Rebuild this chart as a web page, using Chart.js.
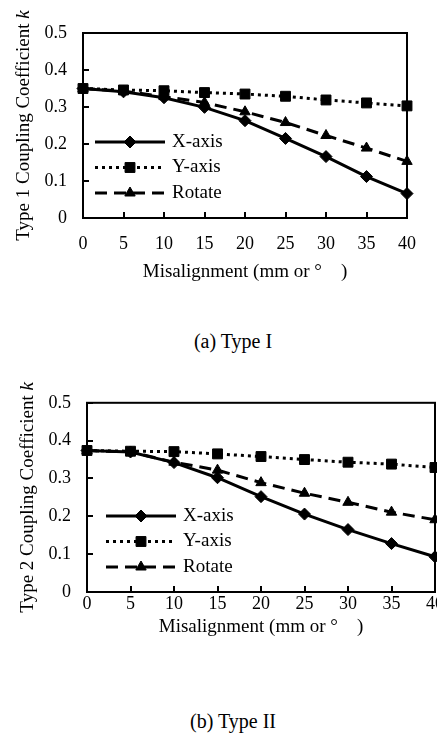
<!DOCTYPE html>
<html>
<head>
<meta charset="utf-8">
<script src="https://cdn.jsdelivr.net/npm/chart.js@4"></script>
<style>
body{margin:0;width:437px;height:736px;overflow:hidden;background:#fff;position:relative;font-family:"Liberation Serif",serif}
.box{position:absolute;left:0;overflow:hidden;width:437px}
.cap{position:absolute;left:0;width:466px;text-align:center;font-size:20px;color:#000}
</style>
</head>
<body>
<div class="box" style="top:0;height:300px"><canvas id="c1" width="437" height="300"></canvas></div>
<div class="cap" style="top:330px">(a) Type I</div>
<div class="box" style="top:370px;height:300px"><canvas id="c2" width="460" height="300"></canvas></div>
<div class="cap" style="top:710px">(b) Type II</div>
<script>
let misalign=["0","5","10","15","20","25","30","35","40"]
let yTicks=[0,0.1,0.2,0.3,0.4,0.5]
let seriesNames=["X-axis","Y-axis","Rotate"]

// Type 1
let t1X=[0.350,0.341,0.325,0.299,0.263,0.215,0.166,0.112,0.066]
let t1Y=[0.350,0.346,0.344,0.339,0.335,0.329,0.319,0.311,0.303]
let t1R=[0.350,0.343,0.328,0.312,0.287,0.258,0.223,0.189,0.153]

// Type 2
let t2X=[0.374,0.370,0.342,0.302,0.252,0.206,0.165,0.128,0.093]
let t2Y=[0.374,0.372,0.371,0.365,0.358,0.350,0.343,0.338,0.329]
let t2R=[0.374,0.370,0.343,0.322,0.289,0.261,0.237,0.211,0.191]

let font="'Liberation Serif', 'Times New Roman', serif"

let boxPlugin={
id:"box",
afterDatasetsDraw(chart){
let a=chart.chartArea
let ctx=chart.ctx
ctx.save()
ctx.strokeStyle="#000"
ctx.lineWidth=2
ctx.strokeRect(a.left,a.top,a.right-a.left,a.bottom-a.top)
ctx.restore()
}
}

let yTitlePlugin={
id:"yTitle",
afterDraw(chart,args,opts){
let a=chart.chartArea
let ctx=chart.ctx
ctx.save()
ctx.translate(opts.x,(a.top+a.bottom)/2)
ctx.rotate(-Math.PI/2)
ctx.fillStyle="#000"
ctx.textBaseline="middle"
ctx.font="19px "+font
let w1=ctx.measureText(opts.text).width
ctx.font="italic 19px "+font
let w2=ctx.measureText("k").width
let x0=-(w1+w2)/2
ctx.font="19px "+font
ctx.fillText(opts.text,x0,0)
ctx.font="italic 19px "+font
ctx.fillText("k",x0+w1,0)
ctx.restore()
}
}

let innerLegend={
id:"innerLegend",
afterDraw(chart,args,opts){
let a=chart.chartArea
let ctx=chart.ctx
ctx.save()
chart.data.datasets.forEach((ds,i)=>{
let y=a.bottom-76+i*25.5
let x0=a.left+opts.dx
ctx.strokeStyle="#000"
ctx.fillStyle="#000"
ctx.lineWidth=ds.borderWidth
ctx.setLineDash(ds.borderDash||[])
ctx.beginPath()
ctx.moveTo(x0,y)
ctx.lineTo(x0+70,y)
ctx.stroke()
ctx.setLineDash([])
ctx.lineWidth=1
Chart.helpers.drawPoint(ctx,{pointStyle:ds.pointStyle,radius:ds.pointRadius,rotation:0,borderWidth:1},x0+35,y)
ctx.font="19px "+font
ctx.textBaseline="middle"
ctx.fillText(ds.label,x0+77,y)
})
ctx.restore()
}
}

function makeDatasets(xs,ys,rs){
return [
{label:seriesNames[0],data:xs,borderColor:"#000",backgroundColor:"#000",borderWidth:3,pointStyle:"rectRot",pointRadius:6,pointBorderWidth:1,clip:false},
{label:seriesNames[1],data:ys,borderColor:"#000",backgroundColor:"#000",borderWidth:3,borderDash:[3,4],pointStyle:"rect",pointRadius:7,pointBorderWidth:1,clip:false},
{label:seriesNames[2],data:rs,borderColor:"#000",backgroundColor:"#000",borderWidth:3,borderDash:[12,7],pointStyle:"triangle",pointRadius:6,pointBorderWidth:1,clip:false}
]
}

function drawChart(id,xs,ys,rs,cfg){
let ctx=document.getElementById(id).getContext("2d")
return new Chart(ctx,{
type:"line",
data:{labels:misalign,datasets:makeDatasets(xs,ys,rs)},
options:{
responsive:false,
animation:false,
layout:{padding:{top:cfg.top,right:cfg.right,left:0,bottom:0}},
plugins:{
legend:{display:false},
tooltip:{enabled:false},
yTitle:{x:cfg.titleX,text:cfg.title},
innerLegend:{dx:cfg.legendDx}
},
elements:{line:{tension:0}},
scales:{
x:{
type:"category",
offset:false,
grid:{display:true,drawOnChartArea:false,drawTicks:true,tickLength:-6,color:"#000",lineWidth:2},
border:{display:false},
ticks:{color:"#000",font:{family:font,size:18},padding:cfg.xPad,maxRotation:0,autoSkip:false},
title:{display:true,text:"Misalignment (mm or °\u3000)",color:"#000",font:{family:font,size:19},padding:{top:0,bottom:cfg.xTitlePad}},
afterFit(s){s.height=cfg.xHeight}
},
y:{
min:0,max:0.5,
afterBuildTicks(s){s.ticks=yTicks.map(v=>({value:v}))},
grid:{display:true,drawOnChartArea:false,drawTicks:true,tickLength:-6,color:"#000",lineWidth:2},
border:{display:false},
ticks:{color:"#000",font:{family:font,size:18},padding:22,callback:v=>v===0?"0":v.toFixed(1)},
afterFit(s){s.width=cfg.yWidth}
}
}
},
plugins:[boxPlugin,yTitlePlugin,innerLegend]
})
}

drawChart("c1",t1X,t1Y,t1R,{top:33,right:16,xHeight:82,xPad:21,xTitlePad:17,yWidth:83,titleX:24,title:"Type 1 Coupling Coefficient ",legendDx:12})
drawChart("c2",t2X,t2Y,t2R,{top:30,right:25,xHeight:78,xPad:7,xTitlePad:32,yWidth:87,titleX:28,title:"Type 2 Coupling Coefficient ",legendDx:19})
</script>
</body>
</html>
